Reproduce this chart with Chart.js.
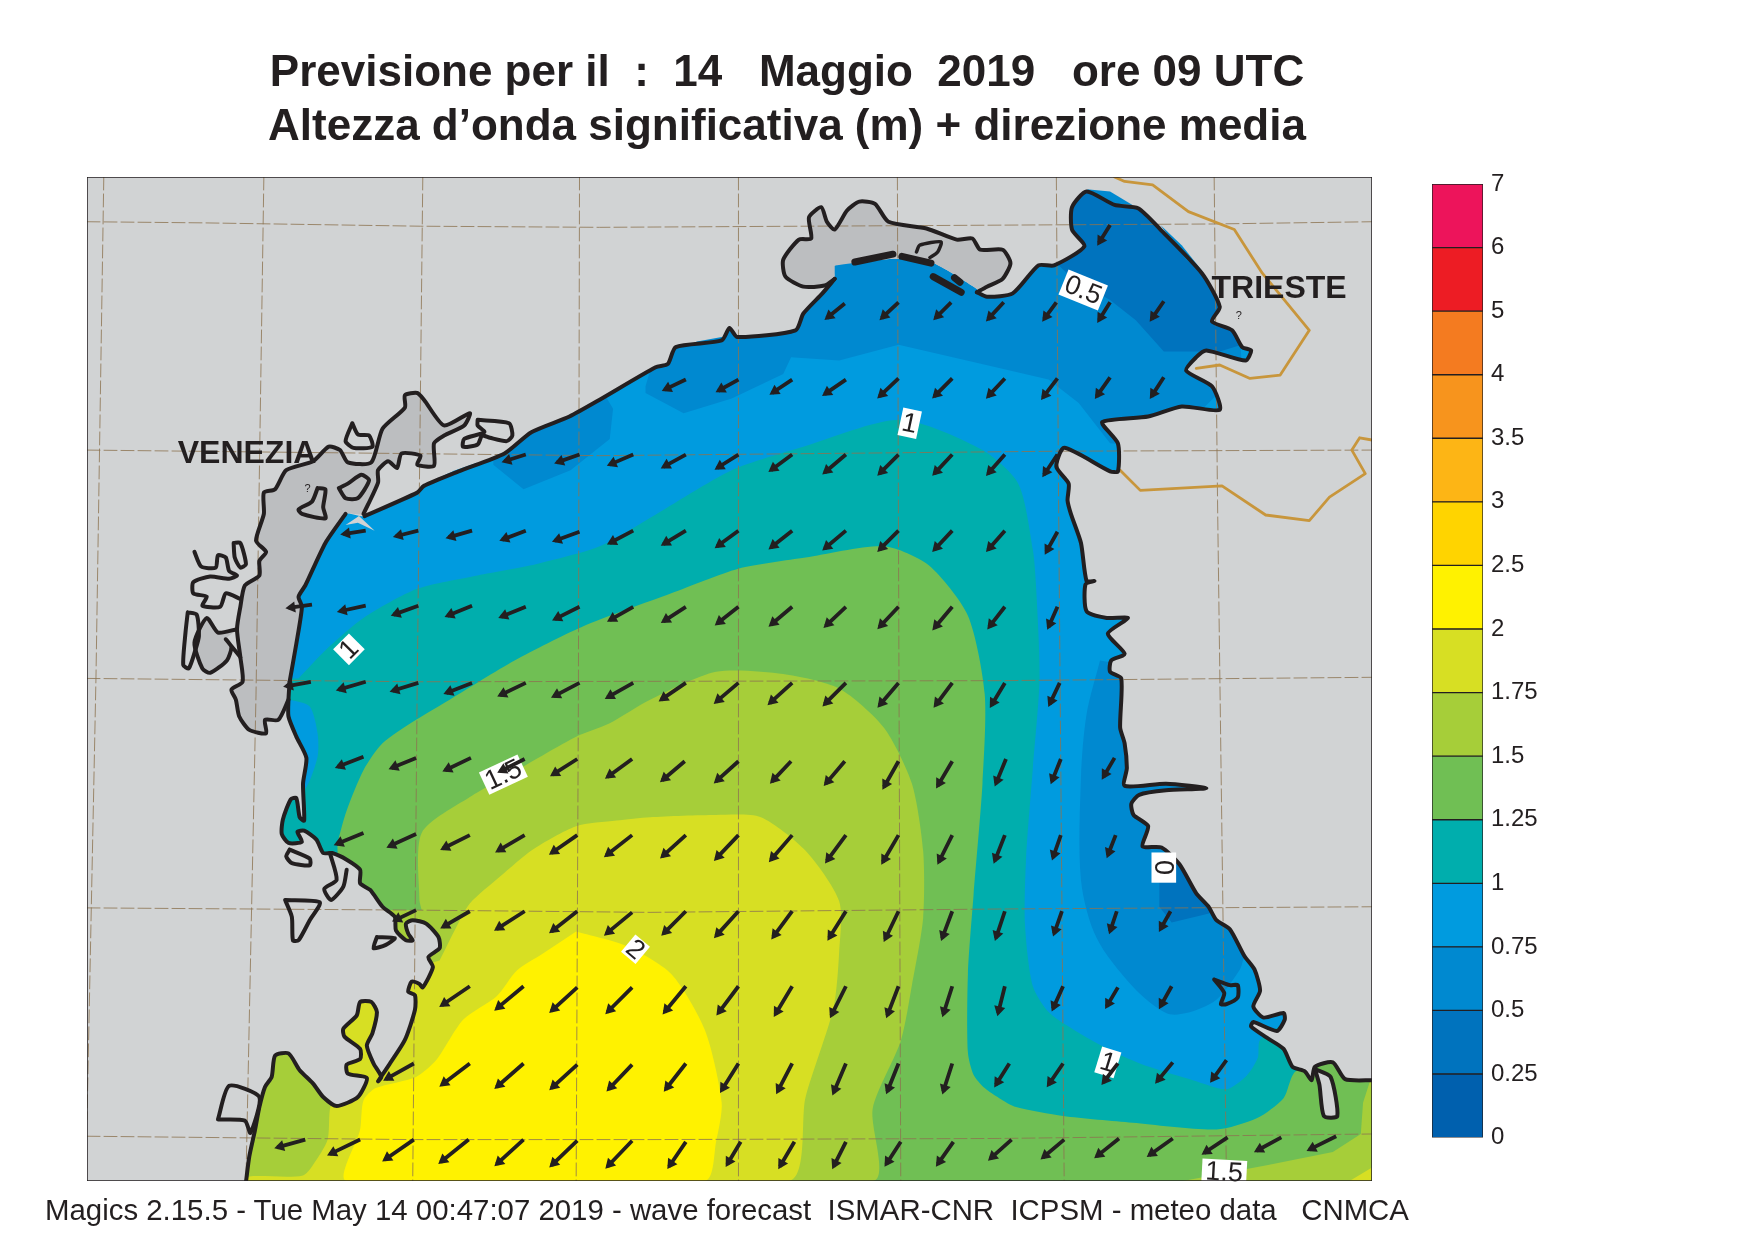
<!DOCTYPE html>
<html>
<head>
<meta charset="utf-8">
<script src="https://cdn.jsdelivr.net/npm/chart.js@4/dist/chart.umd.min.js"></script>
<style>
  body { margin: 0; background: #fff; }
  #mapChart { position: absolute; left: 0; top: 0; }
  #scaleChart { position: absolute; left: 1420px; top: 160px; }
  #footer {
    position: absolute; left: 45px; top: 1193px; white-space: pre;
    font: 29.4px "Liberation Sans", sans-serif; color: #231f20;
  }
</style>
</head>
<body>
<canvas id="mapChart" width="1574" height="1242"></canvas>
<canvas id="scaleChart" width="200" height="1000"></canvas>
<div id="footer">Magics 2.15.5 - Tue May 14 00:47:07 2019 - wave forecast  ISMAR-CNR  ICPSM - meteo data   CNMCA</div>
<script>
const titleLines = ['Previsione per il  :  14   Maggio  2019   ore 09 UTC', 'Altezza d\u2019onda significativa (m) + direzione media'];

// colour bar
const scaleLabels = ['0', '0.25', '0.5', '0.75', '1', '1.25', '1.5', '1.75', '2', '2.5', '3', '3.5', '4', '5', '6', '7'];
const scaleColors = ['#0060ae', '#0073be', '#0089d0', '#009bdf', '#00aead', '#70bf54', '#a6ce39', '#d7df23',
  '#fff200', '#ffd400', '#fdb515', '#f7941d', '#f47b20', '#ed1c24', '#ed145b'];

// everything below is in map units
const xRange = [78, 1226];
const yRange = [158, 1055];

// contour bands
const band050North = [[577,345],[577,351],[611,369],[654,356],[700,334],[707,319],[750,322],[803,308],[864,322],[937,339],[964,360],[992,396],[1040,400],[1110,330],[1100,190],[700,190],[590,300]];
const band050West = [[441,400],[441,415],[468,437],[510,420],[545,392],[548,365],[536,345]];
const band050East = [[983,590],[971,638],[966,694],[966,786],[980,838],[1012,881],[1042,905],[1060,905],[1087,893],[1108,866],[1114,853],[1150,850],[1040,600]];
const band025North = [[945,236],[960,250],[992,268],[1015,286],[1040,314],[1090,314],[1135,300],[1100,180],[950,160],[935,220]];
const band025East = [[1036,785],[1036,810],[1047,824],[1085,815],[1070,770],[1040,765]];
const band100 = [[267,606],[294,578],[325,552],[373,526],[427,514],[479,504],[536,488],[582,462],[654,420],[718,399],[805,375],[878,402],[910,432],[923,491],[926,526],[929,606],[923,686],[917,766],[916,826],[923,881],[938,905],[968,925],[998,941],[1027,953],[1066,965],[1096,973],[1114,961],[1124,945],[1126,929],[1150,915],[1226,915],[1226,1055],[78,1055],[78,606]];
const patch075Coast = [[250,625],[259,625],[277,631],[284,655],[284,676],[274,703],[262,710],[250,690]];
const band125 = [[302,764],[302,753],[310,724],[325,688],[342,664],[372,643],[402,625],[460,590],[520,560],[600,530],[660,508],[720,498],[790,488],[830,505],[865,550],[880,620],[878,700],[870,800],[865,870],[865,940],[870,960],[880,972],[893,981],[908,989],[950,997],[1012,1003],[1087,1009],[1123,999],[1147,981],[1158,957],[1226,930],[1226,1055],[78,1055],[78,764]];
const band150 = [[377,813],[375,804],[377,744],[420,712],[462,688],[515,658],[545,646],[581,625],[640,600],[700,602],[750,615],[790,650],[815,700],[825,760],[825,820],[815,880],[805,930],[780,990],[780,1055],[78,1055],[78,813]];
const band150Corner = [[1226,960],[1218,985],[1216,1013],[1191,1029],[1132,1041],[1057,1055],[1226,1055]];
const band175 = [[393,858],[408,828],[420,807],[447,783],[476,759],[515,738],[551,733],[581,730],[640,728],[680,730],[720,760],[750,805],[750,850],[745,900],[720,980],[705,1055],[221,1056],[223,1051],[271,1050],[283,1036],[293,1018],[295,991],[300,975],[300,885]];
const band175Corner = [[1226,1043],[1206,1055],[1226,1055]];
const band200 = [[515,832],[560,845],[600,870],[630,920],[645,985],[640,1020],[630,1055],[310,1055],[322,1009],[325,983],[336,972],[372,962],[390,947],[414,911],[444,890],[462,867],[485,852]];

// slivers where the field runs past the coast line
const bleedVenice = [[376,434],[407,420],[427,413],[410,423]];
const bleedCaorle = [[623,305],[645,301],[648,305],[609,311]];
const bleedGulfTop = [[971,169],[992,171],[1012,183],[996,182]];
const bleedGulfEast = [[1037,201],[1056,219],[1075,243],[1060,232]];

// coast, south to north along the west side
const coastPo = [[220,1056],[223,1033],[228,1010],[232,989],[237,971],[243,962],[246,943],[258,941],[268,956],[280,968],[289,980],[301,988],[320,980],[328,963],[311,959],[310,951],[322,946],[322,937],[308,926],[307,919],[319,907],[322,895],[332,895],[337,904],[333,923],[328,934],[334,950],[341,962],[338,966],[348,951],[362,929],[371,902],[371,889],[365,886],[368,877],[375,879],[378,882],[387,864],[383,855],[393,847],[392,837],[381,825],[369,822],[363,825],[365,834],[369,840],[363,840],[354,831],[353,819],[342,810],[331,795],[322,789],[322,777],[310,768],[297,762],[289,762],[283,750],[272,742],[266,743],[270,752],[258,753],[252,745],[253,732],[260,714],[265,713],[268,730],[272,733],[271,700],[274,677],[265,658],[258,640],[258,625],[259,609]];
const coastBarrier = [[259,609],[265,575],[270,542],[267,533],[273,523],[291,485],[309,459]];
const coastVenice = [[326,461],[373,440],[379,434],[410,421],[451,405],[475,386],[509,372],[536,357],[586,328],[597,325],[604,310],[645,304],[652,293],[659,301],[711,295],[718,280],[735,262],[746,249]];
const gradoSeaEdge = [[746,249],[746,237],[800,231],[832,234],[873,258]];
const gradoOuter = [[746,249],[737,255],[718,256],[702,247],[700,232],[714,214],[725,213],[723,194],[734,185],[739,198],[746,205],[757,188],[768,180],[782,182],[794,198],[828,204],[855,214],[869,213],[876,223],[896,223],[903,235],[896,249],[882,256],[873,261]];
const coastEast = [[873,261],[882,265],[905,262],[928,237],[942,237],[969,220],[958,205],[958,185],[971,171],[996,183],[1017,186],[1037,205],[1074,244],[1090,274],[1083,287],[1101,295],[1110,310],[1118,313],[1113,322],[1078,313],[1069,319],[1060,331],[1083,345],[1090,366],[1056,363],[1026,372],[985,377],[999,396],[999,421],[992,421],[951,400],[944,417],[955,432],[954,447],[957,459],[966,485],[971,519],[978,519],[970,522],[971,546],[989,552],[1008,552],[990,566],[1005,584],[993,590],[992,600],[1002,606],[1001,650],[1005,664],[1007,686],[1005,702],[1042,700],[1078,704],[1042,706],[1018,710],[1011,718],[1013,728],[1026,738],[1021,756],[1038,757],[1054,772],[1069,798],[1080,810],[1087,822],[1099,830],[1112,854],[1121,866],[1126,885],[1120,899],[1129,909],[1147,905],[1148,911],[1141,921],[1120,913],[1118,917],[1132,927],[1147,937],[1155,953],[1166,957],[1172,965],[1175,953],[1191,949],[1202,964],[1227,965]];
const landCorners = [[1300,965],[1300,100],[0,100],[0,1100]];
const lagoonWedge = [[309,469],[321,461],[335,474],[320,467]];

// lagoons and islands
const veniceLagoon = [[258,625],[249,643],[237,643],[238,655],[223,652],[214,640],[211,625],[207,616],[217,609],[215,587],[212,562],[215,542],[219,523],[232,514],[232,501],[238,493],[229,483],[236,459],[236,440],[246,437],[256,420],[280,412],[294,399],[304,402],[311,413],[332,413],[342,383],[362,364],[362,353],[373,351],[379,357],[397,380],[420,369],[415,380],[397,389],[388,396],[388,416],[373,415],[376,407],[359,405],[355,418],[347,412],[338,420],[338,431],[325,459]];
const lagoonSouthDark = [[174,574],[181,597],[188,601],[203,590],[207,578],[202,571],[212,562],[195,565],[185,552]];
const outlineSouthDark = [[215,587],[202,571],[207,578],[203,590],[188,601],[181,597],[174,574],[185,552],[195,565],[212,562]];
const islands = [
  [[209,485],[215,485],[220,504],[215,507],[210,498],[209,485]],
  [[174,493],[180,506],[193,507],[195,496],[202,498],[205,510],[212,514],[205,517],[188,515],[173,520],[173,530],[185,533],[181,541],[197,542],[202,530],[215,535]],
  [[168,547],[176,549],[178,568],[175,580],[169,597],[164,594],[166,565],[168,547]],
  [[284,436],[291,437],[289,453],[291,463],[270,459],[267,455],[279,448],[284,436]],
  [[303,436],[311,432],[323,424],[330,429],[320,445],[309,445],[303,436]],
  [[315,378],[320,388],[330,389],[333,399],[316,400],[309,394],[315,378]],
  [[427,375],[455,378],[458,389],[453,394],[438,391],[431,389],[427,397],[414,399],[415,392],[433,386],[427,380],[427,375]],
  [[259,759],[277,767],[277,773],[261,771],[256,765],[259,759]],
  [[255,804],[286,806],[277,822],[267,840],[262,840],[261,819],[255,804]],
  [[337,837],[353,838],[345,844],[334,847],[337,837]],
  [[295,762],[301,786],[290,794],[296,804],[307,792],[310,777]],
  [[195,1000],[205,970],[232,980],[224,1012],[219,1001],[195,1000]],
  [[1085,875],[1099,880],[1106,880],[1106,891],[1096,897],[1091,897],[1094,887],[1085,875]],
  [[1175,955],[1189,962],[1195,997],[1183,997],[1179,969],[1175,955]],
];
const lagoonEast = islands[islands.length - 1];
const gradoBars = [
  [[764,234],[798,227]],
  [[806,229],[832,235]],
  [[834,247],[859,261]],
  [[853,248],[858,252]],
];
const gradoLoop = [[819,225],[822,219],[841,216],[838,225],[831,230]];

// graticule
const meridians = [
  [[93,158],[86,606],[78,1000]],
  [[236,158],[229,620],[220,1055]],
  [[378,158],[373,612],[369,1055]],
  [[518,158],[517,625],[515,1055]],
  [[660,158],[660,491],[660,1055]],
  [[802,158],[803,491],[805,1055]],
  [[944,158],[946,447],[951,1055]],
  [[1085,158],[1088,447],[1096,1055]],
];
const parallels = [
  [[78,198],[181,199],[376,202],[536,203],[1085,200],[1226,198]],
  [[78,402],[536,407],[946,403],[1226,402]],
  [[78,606],[373,609],[893,608],[1226,605]],
  [[78,811],[372,813],[581,815],[893,812],[1226,810]],
  [[78,1015],[369,1018],[581,1018],[893,1017],[1226,1013]],
];

// state borders
const borderNorth = [[996,158],[1005,162],[1030,165],[1062,189],[1103,205],[1128,244],[1170,295],[1144,335],[1117,338],[1090,326],[1069,329]];
const borderSouth = [[1001,420],[1019,438],[1092,434],[1131,460],[1170,465],[1188,444],[1220,423],[1208,402],[1215,391],[1226,393]];

// wave direction arrows: tail x, tail y, head x, head y
const arrowRow1 = [[992,201,982,217]];
const arrowRow2 = [[755,271,739,284],[803,270,788,284],[850,270,836,284],[897,270,883,285],[944,270,933,285],[992,270,982,286],[1040,269,1029,285]];
const arrowRow3 = [[613,339,594,348],[660,339,642,349],[708,339,690,351],[756,339,737,352],[803,338,786,354],[851,338,835,354],[898,338,883,354],[945,338,932,355],[992,337,980,354],[1040,337,1029,354]];
const arrowRow4 = [[470,406,451,412],[518,406,498,413],[566,406,545,415],[613,406,593,417],[660,406,641,418],[708,406,689,420],[756,406,737,422],[803,406,786,423],[851,406,835,423],[898,406,883,423],[945,406,933,424]];
const arrowRow5 = [[327,474,307,477],[374,474,354,479],[422,474,401,480],[470,474,449,482],[518,475,496,483],[566,474,545,485],[613,474,593,486],[660,474,641,488],[708,474,689,489],[756,474,737,490],[803,474,786,491],[851,474,835,491],[898,474,883,491],[945,475,935,493]];
const arrowRow6 = [[279,540,258,543],[327,541,304,546],[374,541,352,549],[422,541,400,550],[470,542,448,551],[518,542,496,553],[566,542,545,554],[613,542,593,555],[660,542,641,557],[708,542,689,558],[756,542,738,559],[803,542,786,560],[851,542,835,561],[898,542,884,560],[945,542,937,560]];
const arrowRow7 = [[278,609,256,613],[327,609,303,616],[374,610,351,617],[422,610,399,619],[470,610,447,621],[518,610,495,622],[566,610,543,623],[613,610,591,625],[660,610,640,627],[708,610,688,628],[756,610,737,629],[803,610,786,630],[851,610,836,630],[898,610,886,630],[947,610,938,629]];
const arrowRow8 = [[325,676,302,685],[372,677,350,686],[421,677,398,688],[469,678,447,689],[516,678,494,692],[565,678,543,694],[612,680,592,697],[660,680,640,698],[707,680,690,698],[755,680,738,700],[803,680,790,703],[851,680,838,702],[899,678,890,700],[948,678,940,698],[996,677,986,694]];
const arrowRow9 = [[325,744,301,754],[372,745,348,756],[420,746,396,758],[469,746,445,760],[516,746,493,762],[565,746,542,764],[613,746,592,765],[660,746,640,767],[708,746,689,768],[756,746,739,769],[803,746,789,770],[851,746,839,770],[898,746,889,769],[948,746,941,766],[997,746,990,764]];
const arrowRow10 = [[372,813,353,822],[420,814,396,828],[469,814,444,830],[516,814,493,832],[565,815,542,834],[613,814,593,834],[660,814,640,836],[708,814,691,837],[756,814,741,838],[803,814,791,839],[851,814,842,838],[898,814,890,838],[949,814,942,834],[998,814,992,832],[1046,814,1037,830]];
const arrowRow11 = [[420,881,395,898],[468,881,444,901],[516,882,493,903],[565,882,543,904],[613,881,594,904],[660,881,642,905],[708,881,693,906],[756,881,743,907],[803,881,793,907],[851,881,843,906],[898,881,892,905],[950,881,941,901],[999,882,989,899],[1047,881,1037,899]];
const arrowRow12 = [[370,950,345,964],[420,950,395,969],[468,950,444,971],[516,951,493,972],[565,951,544,973],[613,950,595,973],[660,950,645,974],[708,950,695,975],[756,950,745,976],[803,950,793,975],[851,950,843,975],[902,950,890,969],[950,950,937,969],[999,950,986,967],[1048,949,1034,966],[1096,947,1083,965]];
const arrowRow13 = [[273,1018,248,1025],[322,1018,295,1031],[370,1018,344,1036],[419,1018,394,1038],[468,1018,444,1040],[516,1019,493,1041],[565,1019,543,1042],[613,1020,598,1042],[662,1020,650,1040],[710,1020,697,1042],[756,1020,745,1042],[805,1020,792,1040],[852,1020,838,1040],[904,1018,885,1035],[951,1018,932,1034],[1000,1017,980,1033],[1048,1017,1027,1032],[1097,1016,1076,1030],[1145,1016,1123,1028],[1194,1015,1170,1027]];
const arrows = [].concat(arrowRow1, arrowRow2, arrowRow3, arrowRow4, arrowRow5, arrowRow6, arrowRow7, arrowRow8, arrowRow9, arrowRow10, arrowRow11, arrowRow12, arrowRow13);

// contour labels: text, x, y, angle, box width, box height
const contourLabels = [
  ['0.5', 968, 259, 22, 38, 24],
  ['1', 813, 378, 12, 17, 25],
  ['1', 312, 580, -45, 20, 20],
  ['1.5', 450, 692, -25, 38, 22],
  ['2', 568, 848, 40, 17, 20],
  ['0', 1040, 775, 90, 27, 22],
  ['1', 990, 949, 17, 18, 24],
  ['1.5', 1094, 1047, 3, 40, 22],
];
const placeNames = [['VENEZIA', 221, 406], ['TRIESTE', 1143, 258]];
const cityMarks = [['?', 275, 437], ['?', 1107, 282]];

const ink = '#231f20';
const landColor = '#d1d3d4';
const landDark = '#bcbec0';
const gridColor = 'rgba(140, 115, 80, 0.8)';
const coastBend = 0.22;

function toPoints(list) {
  return list.map(p => ({ x: p[0], y: p[1] }));
}

function area(list, color, tension) {
  return {
    data: toPoints(list), showLine: true, fill: 'shape', backgroundColor: color,
    borderWidth: 0, pointRadius: 0, tension: tension || 0,
  };
}

function stroke(list, color, width, dash, tension) {
  return {
    data: toPoints(list), showLine: true, fill: false, borderColor: color,
    borderWidth: width, borderDash: dash || [], pointRadius: 0, tension: tension || 0,
    borderJoinStyle: 'round', borderCapStyle: 'round',
  };
}

const landFill = [].concat(coastPo, coastBarrier, coastVenice, gradoSeaEdge, coastEast, landCorners);
const veniceFill = veniceLagoon.concat(coastBarrier.slice().reverse());
const gradoFill = gradoOuter.concat([[873,258],[832,234],[800,231],[746,237]]);

// painted in this order
const layers = [
  area([[78,158],[1226,158],[1226,1055],[78,1055]], scaleColors[3]),
  area(band050North, scaleColors[2]),
  area(band050West, scaleColors[2]),
  area(band050East, scaleColors[2], 0.3),
  area(band025North, scaleColors[1]),
  area(band025East, scaleColors[1]),
  area(band100, scaleColors[4], 0.25),
  area(patch075Coast, scaleColors[3], 0.25),
  area(band125, scaleColors[5], 0.25),
  area(band150, scaleColors[6], 0.25),
  area(band150Corner, scaleColors[6]),
  area(band175, scaleColors[7], 0.25),
  area(band175Corner, scaleColors[7]),
  area(band200, scaleColors[8], 0.25),
  area(landFill, landColor, coastBend),
  area(lagoonWedge, landColor),
  area(lagoonEast, landColor, coastBend),
  area(veniceFill, landDark, coastBend),
  area(lagoonSouthDark, landDark, coastBend),
  area(gradoFill, landDark, coastBend),
  area(bleedVenice, scaleColors[3]),
  area(bleedCaorle, scaleColors[2]),
  area(bleedGulfTop, scaleColors[2]),
  area(bleedGulfEast, scaleColors[2]),
];
meridians.concat(parallels).forEach(line => layers.push(stroke(line, gridColor, 1, [13, 4])));
layers.push(stroke(borderNorth, '#c8963c', 2.8));
layers.push(stroke(borderSouth, '#c8963c', 2.8));
[coastPo, coastBarrier, coastVenice, gradoOuter, coastEast, veniceLagoon, outlineSouthDark].forEach(line => layers.push(stroke(line, ink, 4, null, coastBend)));
islands.forEach(line => layers.push(stroke(line, ink, 4, null, coastBend)));
gradoBars.forEach(line => layers.push(stroke(line, ink, 7)));
layers.push(stroke(gradoLoop, ink, 3.5, null, coastBend));

// arrow shafts, broken by gaps, and their heads
const shafts = [];
const heads = [];
const headAngles = [];
arrows.forEach(a => {
  const u = a[2] - a[0];
  const v = a[3] - a[1];
  const len = Math.hypot(u, v);
  shafts.push({ x: a[0], y: a[1] }, { x: a[2], y: a[3] }, { x: NaN, y: NaN });
  heads.push({ x: a[2] - u / len * 3, y: a[3] - v / len * 3 });
  headAngles.push(Math.atan2(u, -v) * 180 / Math.PI);
});
layers.push({
  label: 'shafts', data: shafts, showLine: true, fill: false, borderColor: ink, borderWidth: 3.8,
  pointRadius: 0, tension: 0, spanGaps: false,
});
layers.push({
  data: heads, showLine: false, pointStyle: 'triangle', pointRadius: 6.5,
  pointRotation: headAngles, backgroundColor: ink, pointBorderWidth: 0,
});
layers.push(stroke([[78,158],[1226,158],[1226,1055],[78,1055],[78,158]], ink, 1.5));

const mapLabels = {
  id: 'mapLabels',
  // contour labels sit under the arrows
  beforeDatasetDraw(chart, args) {
    if (chart.data.datasets[args.index].label !== 'shafts') return;
    const { ctx, scales: { x, y } } = chart;
    const k = x.getPixelForValue(1) - x.getPixelForValue(0);
    contourLabels.forEach(l => {
      ctx.save();
      ctx.translate(x.getPixelForValue(l[1]), y.getPixelForValue(l[2]));
      ctx.rotate(l[3] * Math.PI / 180);
      ctx.textAlign = 'center';
      ctx.textBaseline = 'middle';
      ctx.fillStyle = '#fff';
      ctx.fillRect(-l[4] * k / 2, -l[5] * k / 2, l[4] * k, l[5] * k);
      ctx.fillStyle = ink;
      ctx.font = '27px "Liberation Sans"';
      ctx.fillText(l[0], 0, 1);
      ctx.restore();
    });
  },
  afterDatasetsDraw(chart) {
    const { ctx, scales: { x, y } } = chart;
    ctx.save();
    ctx.textAlign = 'center';
    ctx.textBaseline = 'middle';
    ctx.fillStyle = ink;
    ctx.font = 'bold 32px "Liberation Sans"';
    placeNames.forEach(p => ctx.fillText(p[0], x.getPixelForValue(p[1]), y.getPixelForValue(p[2])));
    ctx.font = '11px "Liberation Sans"';
    cityMarks.forEach(p => ctx.fillText(p[0], x.getPixelForValue(p[1]), y.getPixelForValue(p[2])));
    ctx.restore();
  },
};

// blank axes keep the plot where it is while the title centres on the whole canvas
const blankAxis = {
  grid: { display: false, drawTicks: false },
  border: { display: false },
  ticks: { display: false },
};

new Chart(document.getElementById('mapChart'), {
  type: 'scatter',
  data: { datasets: layers.reverse() },
  options: {
    responsive: false,
    animation: false,
    devicePixelRatio: 1,
    layout: { padding: { left: 0, right: 0, top: 0, bottom: 61 } },
    plugins: {
      legend: { display: false },
      tooltip: { enabled: false },
      title: {
        display: true,
        text: titleLines,
        color: ink,
        font: { family: '"Liberation Sans"', size: 44, weight: 'bold', lineHeight: 1.22 },
        padding: { top: 47, bottom: 22.6 },
      },
    },
    scales: {
      x: { display: false, min: xRange[0], max: xRange[1] },
      y: {
        ...blankAxis, min: yRange[0], max: yRange[1], reverse: true,
        afterFit(scale) { scale.width = 87; },
      },
      yRight: {
        ...blankAxis, position: 'right',
        afterFit(scale) { scale.width = 202; },
      },
    },
  },
  plugins: [mapLabels],
});

new Chart(document.getElementById('scaleChart'), {
  type: 'bar',
  data: {
    labels: [''],
    datasets: scaleColors.map(color => ({
      data: [1], backgroundColor: color, borderColor: ink, borderWidth: 1,
      borderSkipped: false, barPercentage: 1, categoryPercentage: 1,
    })),
  },
  options: {
    responsive: false,
    animation: false,
    devicePixelRatio: 1,
    layout: { padding: { left: 12, top: 24, bottom: 21, right: 0 } },
    plugins: { legend: { display: false }, tooltip: { enabled: false } },
    scales: {
      x: { display: false, stacked: true },
      y: {
        stacked: true,
        position: 'right',
        min: 0,
        max: 15,
        afterFit(scale) { scale.width = 137; },
        grid: { display: false, drawTicks: false },
        border: { display: false },
        ticks: {
          stepSize: 1,
          autoSkip: false,
          padding: 8,
          color: ink,
          font: { family: '"Liberation Sans"', size: 24 },
          callback: value => scaleLabels[value],
        },
      },
    },
  },
});
</script>
</body>
</html>
